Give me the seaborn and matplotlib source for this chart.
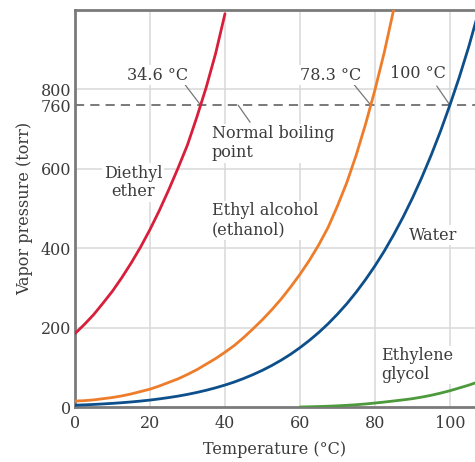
import numpy as np
import pandas as pd
import seaborn as sns
import matplotlib.pyplot as plt

sns.set_theme(style="white")
plt.rcParams["font.family"] = ["DejaVu Serif"]

# Values (temperature in °C, pressure in torr)
ether_t = [0, 2.5, 5, 7.5, 10, 12.5, 15, 17.5, 20, 22.5, 25, 27.5, 30, 32.5, 35, 37.5, 40]
ether_p = [185, 208, 233, 262, 292, 326, 363, 403, 447, 495, 547, 602, 660, 730, 805, 890, 990]

ethanol_t = [0, 2.5, 5, 7.5, 10, 12.5, 15, 17.5, 20, 22.5, 25, 27.5, 30, 32.5, 35, 37.5,
             40, 42.5, 45, 47.5, 50, 52.5, 55, 57.5, 60, 62.5, 65, 67.5, 70, 72.5,
             75, 77.5, 80, 82.5, 85]
ethanol_p = [15, 16, 18, 21, 24, 28, 33, 39, 45, 53, 62, 71, 82, 94, 108, 122,
             138, 155, 175, 197, 220, 245, 272, 302, 334, 369, 408, 452, 506, 565,
             634, 712, 798, 893, 1000]

water_t = [0, 2.5, 5, 7.5, 10, 12.5, 15, 17.5, 20, 22.5, 25, 27.5, 30, 32.5, 35, 37.5,
           40, 42.5, 45, 47.5, 50, 52.5, 55, 57.5, 60, 62.5, 65, 67.5, 70, 72.5,
           75, 77.5, 80, 82.5, 85, 87.5, 90, 92.5, 95, 97.5, 100, 102.5, 105, 107.5]
water_p = [4.6, 5.5, 6.5, 7.8, 9.2, 10.9, 12.8, 15, 17.5, 20.5, 23.8, 27.5, 31.8, 36.7, 42.2, 48.4,
           55.3, 63, 71.9, 81.7, 92.5, 104.6, 118, 132.8, 149.4, 167.6, 187.5, 209.5, 233.7, 260,
           289.1, 320.8, 355.1, 392.6, 433.6, 477.9, 525.8, 577.8, 633.9, 694.4, 760, 830, 906, 990]

glycol_t = [60, 62.5, 65, 67.5, 70, 72.5, 75, 77.5, 80, 82.5, 85, 87.5, 90, 92.5,
            95, 97.5, 100, 102.5, 105, 107.5]
glycol_p = [0, 0.6, 1.2, 2, 3, 4.3, 5.8, 7.7, 10, 12.5, 15.2, 18, 21, 25,
            29.5, 35, 41, 48, 55, 63]

names = ["Diethyl ether", "Ethyl alcohol", "Water", "Ethylene glycol"]
colors = {"Diethyl ether": "#d81e3a", "Ethyl alcohol": "#ee7d2b",
          "Water": "#0d4f8b", "Ethylene glycol": "#4c9a3c"}
boiling_labels = ["34.6 °C", "78.3 °C", "100 °C"]
x_ticks = [0, 20, 40, 60, 80, 100]
y_ticks = [0, 200, 400, 600, 760, 800]

curves = [(ether_t, ether_p), (ethanol_t, ethanol_p), (water_t, water_p), (glycol_t, glycol_p)]
df = pd.concat([pd.DataFrame({"temp": t, "pressure": p, "liquid": n})
                for n, (t, p) in zip(names, curves)], ignore_index=True)

fig = plt.figure(figsize=(4.75, 4.62), dpi=100)
ax = fig.add_axes([0.158, 0.119, 0.842, 0.859])

txt = "#3c3c3c"
grid_c = "#d8d8d8"
fs = 11.5

# grid
for gx in [20, 40, 60, 80, 100]:
    ax.axvline(gx, color=grid_c, lw=1.1, zorder=0)
for gy in [200, 400, 600, 800]:
    ax.axhline(gy, color=grid_c, lw=1.1, zorder=0)

sns.lineplot(data=df, x="temp", y="pressure", hue="liquid", palette=colors,
             sort=False, estimator=None, lw=2.0, legend=False, ax=ax, zorder=3)

ax.axhline(760, color="#555555", lw=1.1, ls=(0, (6, 4)), zorder=1.5)

ax.set_xlim(0, 106.7)
ax.set_ylim(0, 999)
ax.set_xticks(x_ticks)
ax.set_yticks(y_ticks)
ax.tick_params(length=0, labelsize=fs, labelcolor=txt)
ax.tick_params(axis="x", pad=6)
ax.tick_params(axis="y", pad=3)
ax.set_xlabel("Temperature (°C)", fontsize=fs, color=txt, labelpad=6)
ax.set_ylabel("Vapor pressure (torr)", fontsize=fs, color=txt, labelpad=5)

for s in ["left", "bottom", "top"]:
    ax.spines[s].set_color("#7a7a7a")
    ax.spines[s].set_linewidth(2)
ax.spines["right"].set_visible(False)

box = dict(facecolor="white", edgecolor="none", pad=1)
lead = dict(arrowstyle="-", color="#777777", lw=0.9, shrinkA=0, shrinkB=0)

# boiling point call-outs
bp_text = [(22.1, 835), (68.3, 835), (91.5, 840)]
bp_start = [(29.3, 812), (74.4, 812), (96.5, 808)]
for lab, (t, p), tp, sp in zip(boiling_labels, curves[:3], bp_text, bp_start):
    cross = np.interp(760, p, t)
    ax.annotate("", xy=(cross, 760), xytext=sp, arrowprops=lead, zorder=2)
    ax.text(tp[0], tp[1], lab, ha="center", va="center", fontsize=fs,
            color=txt, bbox=box, zorder=2)

ax.annotate("", xy=(43.5, 760), xytext=(46.7, 717), arrowprops=lead, zorder=2)
ax.text(36.5, 664, "Normal boiling\npoint", ha="left", va="center",
        fontsize=fs, color=txt, linespacing=1.15, bbox=box, zorder=2)

ax.text(15.5, 565, "Diethyl\nether", ha="center", va="center", fontsize=fs,
        color=txt, linespacing=1.1, bbox=box, zorder=2)
ax.text(36.5, 470, "Ethyl alcohol\n(ethanol)", ha="left", va="center",
        fontsize=fs, color=txt, linespacing=1.15, bbox=box, zorder=2)
ax.text(95.5, 433, "Water", ha="center", va="center", fontsize=fs,
        color=txt, bbox=box, zorder=2)
ax.text(81.6, 106, "Ethylene\nglycol", ha="left", va="center", fontsize=fs,
        color=txt, linespacing=1.1, bbox=box, zorder=2)

fig.savefig("out.png", dpi=100)
